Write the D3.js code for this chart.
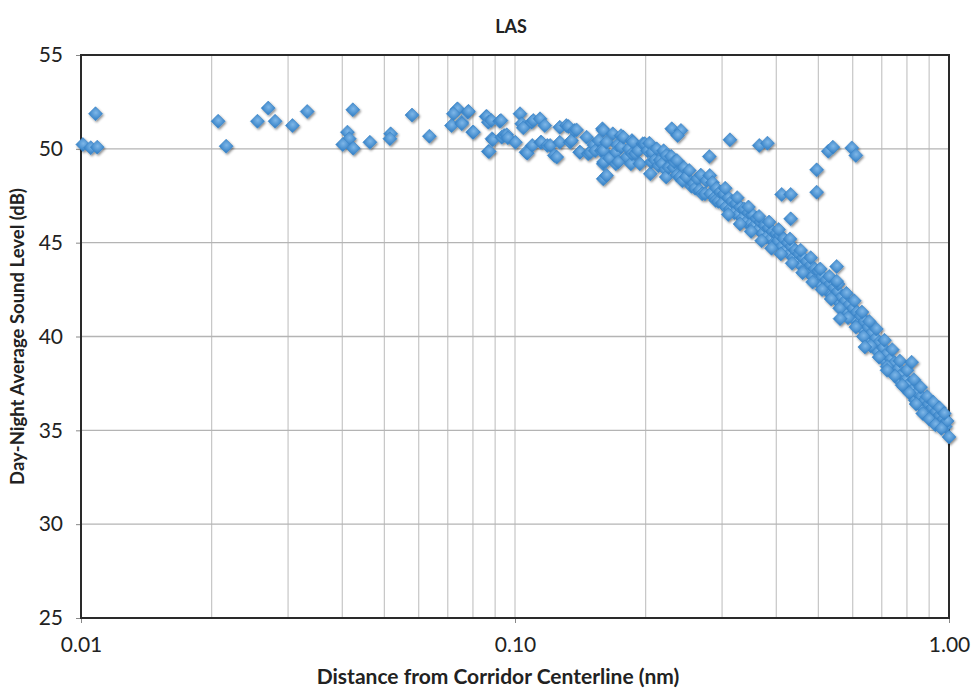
<!DOCTYPE html>
<html>
<head>
<meta charset="utf-8">
<script src="https://cdn.jsdelivr.net/npm/d3@7/dist/d3.min.js"></script>
<style>
  body { margin: 0; background: #fff; }
  svg { display: block; font-family: Lato, "Open Sans", sans-serif; }
</style>
</head>
<body>
<div id="chart"></div>
<script>
const chartTitle = "LAS";
const xTitle = "Distance from Corridor Centerline (nm)";
const yTitle = "Day-Night Average Sound Level (dB)";

const xTicks = [0.01, 0.1, 1];
const xTickLabels = ["0.01", "0.10", "1.00"];
const yTicks = [25, 30, 35, 40, 45, 50, 55];

// [distance nm, DNL dB] close to the centerline
const nearPoints = [
  [0.0101, 50.23], [0.01053, 50.06], [0.0109, 50.09], [0.0108, 51.87],
  [0.0207, 51.47], [0.0216, 50.14], [0.0255, 51.47], [0.027, 52.17],
  [0.028, 51.47], [0.0307, 51.24], [0.0332, 51.99], [0.0423, 52.08],
  [0.0411, 50.89], [0.0415, 50.54], [0.0401, 50.23], [0.0424, 50.03],
  [0.0463, 50.35], [0.0517, 50.8], [0.0515, 50.54], [0.0579, 51.8],
  [0.0635, 50.67], [0.0734, 52.08], [0.0737, 52.13], [0.0721, 51.87],
  [0.0778, 51.95], [0.0781, 52.0], [0.0714, 51.24], [0.0754, 51.42],
  [0.0754, 51.33], [0.0799, 50.89], [0.0802, 50.89], [0.0858, 51.72],
  [0.0861, 51.72], [0.0868, 51.42], [0.0882, 51.51], [0.0922, 51.47],
  [0.0928, 51.51], [0.0885, 50.54], [0.0868, 49.86], [0.0872, 49.86],
  [0.0889, 50.48], [0.0932, 50.62], [0.0944, 50.71], [0.0957, 50.75],
  [0.0963, 50.59]
];

// main decay band
const bandPoints = [
  [0.1002, 50.35], [0.1027, 51.87], [0.1036, 51.33], [0.1045, 51.12],
  [0.106, 49.82], [0.1067, 49.77], [0.1092, 51.42], [0.1096, 50.18],
  [0.1102, 51.51], [0.1142, 51.6], [0.1146, 50.35], [0.115, 50.35],
  [0.1171, 51.24], [0.1187, 50.18], [0.1205, 50.18], [0.1232, 49.65],
  [0.1248, 49.56], [0.1268, 51.15], [0.1268, 50.35], [0.1313, 51.24],
  [0.1327, 51.19], [0.134, 50.35], [0.1349, 50.44], [0.137, 50.98],
  [0.1386, 51.01], [0.141, 49.82], [0.1412, 49.82], [0.1462, 50.62],
  [0.1474, 49.74], [0.149, 49.8], [0.152, 50.2], [0.153, 49.9],
  [0.1559, 50.44], [0.158, 49.9], [0.159, 51.07], [0.1597, 50.98],
  [0.1597, 49.91], [0.1597, 49.2], [0.16, 49.3], [0.1625, 50.35],
  [0.165, 49.5], [0.168, 50.8], [0.1708, 49.82], [0.1708, 49.2],
  [0.172, 50.2], [0.173, 49.3], [0.1755, 50.7], [0.1755, 50.1],
  [0.1777, 50.62], [0.1809, 49.56], [0.183, 50.0], [0.185, 49.2],
  [0.186, 50.44], [0.186, 49.74], [0.1868, 50.35], [0.1893, 49.74],
  [0.192, 49.9], [0.194, 49.2], [0.197, 50.27], [0.199, 50.27],
  [0.202, 49.9], [0.204, 50.3], [0.205, 48.67], [0.206, 49.3],
  [0.207, 49.82], [0.21, 49.4], [0.212, 50.0], [0.214, 49.1],
  [0.216, 49.4], [0.218, 49.2], [0.22, 49.9], [0.222, 48.9],
  [0.223, 49.65], [0.223, 48.5], [0.226, 49.0], [0.229, 49.6],
  [0.232, 49.0], [0.233, 49.3], [0.236, 49.38], [0.236, 48.6],
  [0.24, 48.5], [0.243, 48.3], [0.245, 49.0], [0.248, 48.5],
  [0.252, 48.85], [0.255, 48.0], [0.258, 48.14], [0.26, 47.9],
  [0.263, 48.4], [0.266, 47.8], [0.268, 48.6], [0.27, 47.6],
  [0.274, 47.6], [0.276, 48.3], [0.281, 48.58], [0.282, 47.6],
  [0.285, 48.2], [0.288, 47.4], [0.29, 47.25], [0.291, 47.9],
  [0.294, 47.2], [0.297, 47.7], [0.3, 47.1], [0.303, 47.6],
  [0.306, 46.9], [0.31, 47.4], [0.313, 46.8], [0.316, 47.2],
  [0.32, 46.6], [0.323, 47.1], [0.327, 46.5], [0.33, 46.9],
  [0.334, 46.3], [0.337, 46.8], [0.341, 46.1], [0.345, 46.6],
  [0.349, 46.0], [0.352, 46.5], [0.356, 45.9], [0.36, 46.3],
  [0.364, 45.7], [0.368, 46.1], [0.372, 45.5], [0.376, 45.9],
  [0.38, 45.3], [0.384, 45.8], [0.388, 45.2], [0.392, 45.6],
  [0.396, 45.0], [0.4, 45.5], [0.404, 45.1], [0.408, 45.4],
  [0.412, 44.8], [0.416, 45.2], [0.42, 44.6], [0.425, 45.0],
  [0.429, 44.4], [0.433, 44.8], [0.438, 44.2], [0.442, 44.6],
  [0.447, 44.0], [0.451, 44.4], [0.456, 43.8], [0.461, 44.2],
  [0.465, 43.6], [0.47, 44.0], [0.475, 43.4], [0.48, 43.8],
  [0.485, 43.2], [0.49, 43.6], [0.495, 43.0], [0.5, 43.5],
  [0.505, 42.8], [0.51, 43.2], [0.516, 42.6], [0.521, 43.0],
  [0.526, 42.4], [0.532, 42.8], [0.537, 42.2], [0.543, 42.6],
  [0.548, 42.0], [0.554, 42.4], [0.56, 41.8], [0.565, 42.1],
  [0.571, 41.5], [0.577, 41.9], [0.583, 41.3], [0.589, 41.7],
  [0.595, 41.1], [0.601, 41.5], [0.607, 40.9], [0.613, 41.3],
  [0.619, 40.7], [0.626, 41.1], [0.632, 40.4], [0.638, 40.8],
  [0.645, 40.1], [0.651, 40.5], [0.658, 39.8], [0.664, 40.2],
  [0.671, 39.5], [0.678, 39.9], [0.685, 39.2], [0.691, 39.7],
  [0.698, 39.0], [0.705, 39.4], [0.713, 38.7], [0.72, 39.1],
  [0.727, 38.4], [0.734, 38.8], [0.742, 38.1], [0.749, 38.6],
  [0.757, 37.9], [0.764, 38.3], [0.772, 37.6], [0.78, 38.0],
  [0.788, 37.3], [0.796, 37.7], [0.804, 37.1], [0.812, 37.5],
  [0.82, 36.9], [0.828, 37.2], [0.836, 36.6], [0.845, 37.0],
  [0.853, 36.4], [0.862, 36.8], [0.87, 36.2], [0.879, 36.6],
  [0.888, 36.0], [0.897, 36.4], [0.906, 35.8], [0.915, 36.2],
  [0.924, 35.6], [0.933, 36.0], [0.942, 35.5], [0.952, 35.8],
  [0.961, 35.3], [0.971, 35.6], [0.98, 35.2], [0.99, 35.5],
  [1.0, 34.65]
];

// upper and lower fringe of the band past 0.3 nm
const bandUpper = [
  [0.305, 47.9], [0.325, 47.4], [0.345, 46.9], [0.365, 46.4],
  [0.385, 46.1], [0.405, 45.7], [0.43, 45.2], [0.455, 44.6],
  [0.48, 44.2], [0.505, 43.6], [0.53, 43.2], [0.555, 42.8],
  [0.58, 42.3], [0.605, 41.9], [0.63, 41.3], [0.655, 40.8],
  [0.68, 40.4], [0.71, 39.8], [0.74, 39.3], [0.77, 38.7],
  [0.8, 38.2], [0.83, 37.7], [0.86, 37.3], [0.89, 36.8],
  [0.92, 36.5], [0.95, 36.2], [0.975, 35.9]
];
const bandLower = [
  [0.31, 46.5], [0.33, 46.0], [0.35, 45.6], [0.37, 45.1],
  [0.39, 44.7], [0.41, 44.4], [0.435, 43.9], [0.46, 43.4],
  [0.485, 42.9], [0.51, 42.5], [0.535, 42.0], [0.56, 41.5],
  [0.585, 41.0], [0.61, 40.5], [0.635, 40.0], [0.66, 39.5],
  [0.69, 38.9], [0.72, 38.4], [0.75, 37.9], [0.78, 37.4],
  [0.81, 37.0], [0.84, 36.4], [0.87, 35.9], [0.9, 35.6],
  [0.93, 35.3], [0.96, 35.1]
];

// points lying off the band
const strayPoints = [
  [0.1597, 48.4], [0.1625, 48.58], [0.2297, 51.07], [0.2412, 50.98],
  [0.237, 50.71], [0.2804, 49.59], [0.3128, 50.48], [0.3655, 50.18],
  [0.3816, 50.3], [0.4116, 47.57], [0.4317, 47.57], [0.4317, 46.27],
  [0.4955, 48.88], [0.4955, 47.69], [0.527, 49.87], [0.54, 50.09],
  [0.597, 50.05], [0.61, 49.65], [0.551, 43.73], [0.551, 42.95],
  [0.561, 40.95], [0.64, 39.44], [0.72, 38.2], [0.82, 38.63]
];

const width = 974;
const height = 692;
const plot = { left: 81, right: 949, top: 55, bottom: 618 };
const tickFont = "21px";

const svg = d3
  .select("#chart")
  .append("svg")
  .attr("width", width)
  .attr("height", height);

const defs = svg.append("defs");
const grad = defs
  .append("radialGradient")
  .attr("id", "dot-fill")
  .attr("cx", "45%")
  .attr("cy", "40%")
  .attr("r", "65%");
grad.append("stop").attr("offset", "0%").attr("stop-color", "#7fb7e8");
grad.append("stop").attr("offset", "100%").attr("stop-color", "#3b86ca");

defs
  .append("filter")
  .attr("id", "dot-shadow")
  .attr("x", "-20%")
  .attr("y", "-20%")
  .attr("width", "140%")
  .attr("height", "140%")
  .append("feDropShadow")
  .attr("dx", 1.2)
  .attr("dy", 1.5)
  .attr("stdDeviation", 1.2)
  .attr("flood-color", "#000")
  .attr("flood-opacity", 0.45);

const xScale = d3.scaleLog().domain([0.01, 1]).range([plot.left, plot.right]);
const yScale = d3.scaleLinear().domain([25, 55]).range([plot.bottom, plot.top]);

// grid
svg
  .append("g")
  .attr("class", "grid-x")
  .selectAll("line")
  .data(xScale.ticks())
  .enter()
  .append("line")
  .attr("x1", (d) => xScale(d))
  .attr("x2", (d) => xScale(d))
  .attr("y1", plot.top)
  .attr("y2", plot.bottom)
  .attr("stroke", "#c6c6c6")
  .attr("stroke-width", 1.2);

svg
  .append("g")
  .attr("class", "grid-y")
  .selectAll("line")
  .data(yTicks)
  .enter()
  .append("line")
  .attr("x1", plot.left)
  .attr("x2", plot.right)
  .attr("y1", (d) => yScale(d))
  .attr("y2", (d) => yScale(d))
  .attr("stroke", "#b4b4b4")
  .attr("stroke-width", 1.4);

// axes
const yAxis = d3
  .axisLeft(yScale)
  .tickValues(yTicks)
  .tickSize(5)
  .tickPadding(13);
const yG = svg.append("g").attr("transform", `translate(${plot.left},0)`).call(yAxis);
yG.select(".domain").remove();
yG.selectAll(".tick line").attr("stroke", "#888");
yG.selectAll(".tick text").attr("fill", "#222").style("font-size", tickFont).style("font-family", "Lato, sans-serif");

const xAxis = d3
  .axisBottom(xScale)
  .tickValues(xTicks)
  .tickSize(5)
  .tickPadding(14)
  .tickFormat((d, i) => xTickLabels[i]);
const xG = svg.append("g").attr("transform", `translate(0,${plot.bottom})`).call(xAxis);
xG.select(".domain").remove();
xG.selectAll(".tick line").attr("stroke", "#888");
xG.selectAll(".tick text").attr("fill", "#222").style("font-size", tickFont).style("font-family", "Lato, sans-serif");

// frame
svg
  .append("rect")
  .attr("x", plot.left)
  .attr("y", plot.top)
  .attr("width", plot.right - plot.left)
  .attr("height", plot.bottom - plot.top)
  .attr("fill", "none")
  .attr("stroke", "#2a2a2a")
  .attr("stroke-width", 2);

// markers
const diamond = d3.symbol().type(d3.symbolSquare).size(98);
const allPoints = nearPoints.concat(bandPoints, bandUpper, bandLower, strayPoints);
svg
  .append("g")
  .attr("class", "markers")
  .attr("filter", "url(#dot-shadow)")
  .selectAll("path")
  .data(allPoints)
  .enter()
  .append("path")
  .attr("d", diamond)
  .attr("transform", (d) => `translate(${xScale(d[0])},${yScale(d[1])}) rotate(45)`)
  .attr("fill", "url(#dot-fill)")
  .attr("stroke", "#3a84c6")
  .attr("stroke-width", 0.6);

// titles
svg
  .append("text")
  .attr("x", 511)
  .attr("y", 33)
  .attr("text-anchor", "middle")
  .attr("fill", "#222")
  .style("font-size", "18px")
  .style("font-weight", "bold")
  .text(chartTitle);

svg
  .append("text")
  .attr("x", 498)
  .attr("y", 684)
  .attr("text-anchor", "middle")
  .attr("fill", "#222")
  .style("font-size", "21px")
  .style("font-weight", "bold")
  .text(xTitle);

svg
  .append("text")
  .attr("transform", `translate(24,${(plot.top + plot.bottom) / 2}) rotate(-90)`)
  .attr("text-anchor", "middle")
  .attr("fill", "#222")
  .style("font-size", "18.5px")
  .style("font-weight", "bold")
  .text(yTitle);
</script>
</body>
</html>
